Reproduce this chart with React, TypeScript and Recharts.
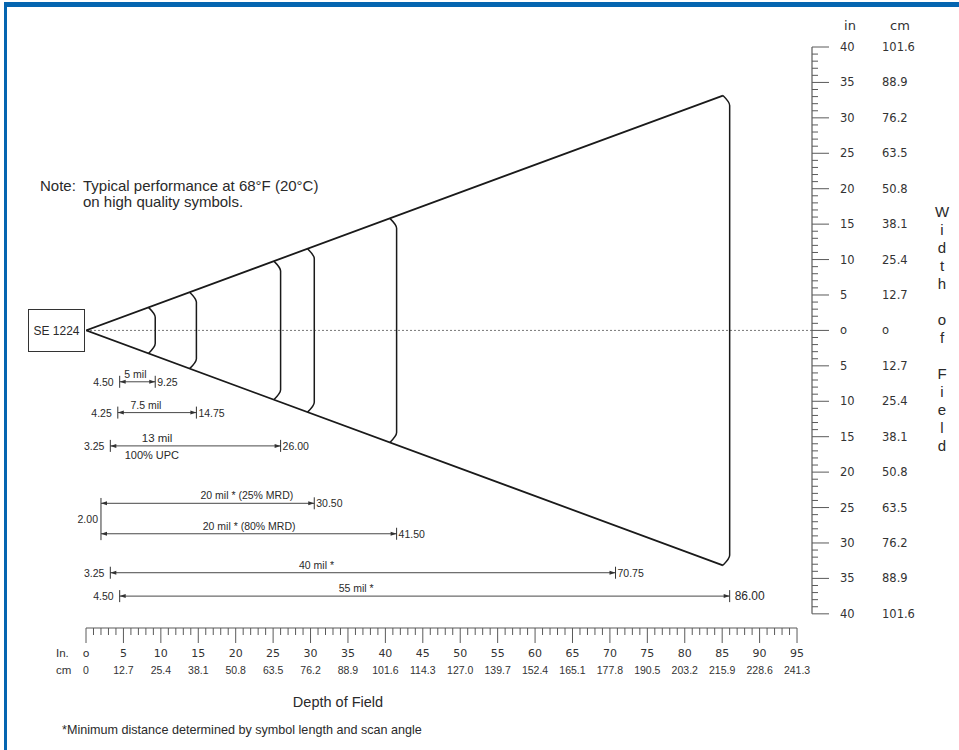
import React from "react";
import { ComposedChart, Line, XAxis, YAxis, ReferenceLine } from "recharts";

// ---------- data ----------
const CONE_DEPTH = [0, 86];
const CONE_HALF_WIDTH = [0, 33.5];

const RANGE_NAMES = ["5 mil", "7.5 mil", "13  mil", "20 mil * (25% MRD)", "20 mil * (80% MRD)", "40 mil *", "55 mil *"];
const RANGE_NEAR = [4.5, 4.25, 3.25, 2.0, 2.0, 3.25, 4.5];
const RANGE_FAR = [9.25, 14.75, 26.0, 30.5, 41.5, 70.75, 86.0];
const NEAR_LABELS = ["4.50", "4.25", "3.25", "2.00", "2.00", "3.25", "4.50"];
const FAR_LABELS = ["9.25", "14.75", "26.00", "30.50", "41.50", "70.75", "86.00"];
const ARC_DEPTHS = [9.25, 14.75, 26.0, 30.5, 41.5, 86.0];

const DEPTH_TICKS_IN = [0, 5, 10, 15, 20, 25, 30, 35, 40, 45, 50, 55, 60, 65, 70, 75, 80, 85, 90, 95];
const DEPTH_LABELS_IN = ["o", "5", "10", "15", "20", "25", "30", "35", "40", "45", "50", "55", "60", "65", "70", "75", "80", "85", "90", "95"];
const DEPTH_LABELS_CM = ["0", "12.7", "25.4", "38.1", "50.8", "63.5", "76.2", "88.9", "101.6", "114.3", "127.0", "139.7", "152.4", "165.1", "177.8", "190.5", "203.2", "215.9", "228.6", "241.3"];

const WIDTH_TICKS_IN = [0, 5, 10, 15, 20, 25, 30, 35, 40];
const WIDTH_LABELS_IN = ["o", "5", "10", "15", "20", "25", "30", "35", "40"];
const WIDTH_LABELS_CM = ["o", "12.7", "25.4", "38.1", "50.8", "63.5", "76.2", "88.9", "101.6"];

// ---------- layout (chart units) ----------
const ROW_LEVEL = [-7.25, -11.6, -16.3, -24.4, -28.7, -34.2, -37.5];
const ROW_LABEL_AT = [6.6, 8.0, 9.5, 21.5, 21.8, 30.8, 36.1];
const UPC_LABEL_AT = 8.8;
const X_MAX = 97;
const Y_MIN = -42;
const Y_MAX = 40;
const CORNER_DX = 0.9;
const CORNER_DY = 1.4;

const ALL_X_TICKS = Array.from({ length: 96 }, (_, i) => i);
const ALL_Y_TICKS = Array.from({ length: 81 }, (_, i) => i - 40);

const TXT = "#2a2a2a";
const RULE = "#5a5a5a";
const SANS = "'Liberation Sans', Arial, sans-serif";

const halfWidth = (d: number) =>
  CONE_HALF_WIDTH[0] +
  ((CONE_HALF_WIDTH[1] - CONE_HALF_WIDTH[0]) * (d - CONE_DEPTH[0])) / (CONE_DEPTH[1] - CONE_DEPTH[0]);

const coneTip = CONE_DEPTH[1] - CORNER_DX;
const coneData = [
  { x: coneTip, y: halfWidth(coneTip) },
  { x: CONE_DEPTH[0], y: CONE_HALF_WIDTH[0] },
  { x: coneTip, y: -halfWidth(coneTip) },
];

const arcData = ARC_DEPTHS.map((d) => {
  const h = halfWidth(d - CORNER_DX);
  return [
    { x: d - CORNER_DX, y: h },
    { x: d, y: h - CORNER_DY },
    { x: d, y: -(h - CORNER_DY) },
    { x: d - CORNER_DX, y: -h },
  ];
});

const XTick = (props: any) => {
  const { x, y, payload } = props;
  const v = payload.value;
  const idx = DEPTH_TICKS_IN.indexOf(v);
  const major = idx >= 0;
  return (
    <g>
      <line x1={x} x2={x} y1={y} y2={y + (major ? 15 : 7)} stroke={RULE} strokeWidth={1} />
      {major && (
        <text x={x} y={y + 29} textAnchor="middle" fontFamily="'DejaVu Sans', sans-serif" fontSize={11} fill="#333">
          {DEPTH_LABELS_IN[idx]}
        </text>
      )}
      {major && (
        <text x={x} y={y + 46} textAnchor="middle" fontFamily="'Liberation Sans Narrow', 'Liberation Sans', sans-serif" fontSize={10.5} fill="#333">
          {DEPTH_LABELS_CM[idx]}
        </text>
      )}
    </g>
  );
};

const YTick = (props: any) => {
  const { x, y, payload } = props;
  const v = payload.value;
  const idx = WIDTH_TICKS_IN.indexOf(Math.abs(v));
  const major = idx >= 0;
  return (
    <g>
      <line x1={x} x2={x + (major ? 17 : 6)} y1={y} y2={y} stroke={RULE} strokeWidth={1} />
      {major && (
        <text x={x + 28} y={y + 4} fontFamily="'DejaVu Sans', sans-serif" fontSize={11.5} fill="#333">
          {WIDTH_LABELS_IN[idx]}
        </text>
      )}
      {major && (
        <text x={x + 70} y={y + 4} fontFamily="'DejaVu Sans', sans-serif" fontSize={11.5} fill="#333">
          {WIDTH_LABELS_CM[idx]}
        </text>
      )}
    </g>
  );
};

const sharesStart = (i: number) =>
  (i > 0 && RANGE_NEAR[i - 1] === RANGE_NEAR[i]) || (i < RANGE_NEAR.length - 1 && RANGE_NEAR[i + 1] === RANGE_NEAR[i]);

const dimShape = (i: number) => (p: any) => {
  const { x1, y1, x2 } = p;
  const y = y1;
  const toPx = (v: number) => x1 + ((v - RANGE_NEAR[i]) / (RANGE_FAR[i] - RANGE_NEAR[i])) * (x2 - x1);
  const shared = sharesStart(i);
  const lx = toPx(ROW_LABEL_AT[i]);
  const big = i === 6;
  return (
    <g>
      <line x1={x1} y1={y} x2={x2} y2={y} stroke="#333" strokeWidth={0.9} />
      <polygon points={`${x1},${y} ${x1 + 6},${y - 2} ${x1 + 6},${y + 2}`} fill="#333" />
      <polygon points={`${x2},${y} ${x2 - 6},${y - 2} ${x2 - 6},${y + 2}`} fill="#333" />
      {!shared && <line x1={x1} y1={y - 6} x2={x1} y2={y + 6} stroke="#333" strokeWidth={1} />}
      <line x1={x2} y1={y - 6} x2={x2} y2={y + 6} stroke="#333" strokeWidth={1} />
      {!shared && (
        <text x={x1 - 6} y={y + 4} textAnchor="end" fontFamily={SANS} fontSize={10.5} fill={TXT}>
          {NEAR_LABELS[i]}
        </text>
      )}
      <text x={x2 + (big ? 5 : 2)} y={y + 4} fontFamily={SANS} fontSize={big ? 12 : 10.5} fill={TXT}>
        {FAR_LABELS[i]}
      </text>
      <text x={lx} y={y - 4} textAnchor="middle" fontFamily={SANS} fontSize={i === 2 ? 11.5 : 10.5} fill={TXT}>
        {RANGE_NAMES[i]}
      </text>
      {i === 2 && (
        <text x={toPx(UPC_LABEL_AT)} y={y + 13} textAnchor="middle" fontFamily={SANS} fontSize={11} fill={TXT}>
          100% UPC
        </text>
      )}
    </g>
  );
};

const sharedTickShape = (label: string) => (p: any) => {
  const { x1, y1, y2 } = p;
  return (
    <g>
      <line x1={x1} y1={y1} x2={x1} y2={y2} stroke="#333" strokeWidth={1} />
      <text x={x1 - 3} y={(y1 + y2) / 2 + 4} textAnchor="end" fontFamily={SANS} fontSize={10.5} fill={TXT}>
        {label}
      </text>
    </g>
  );
};

const WIDTH_LETTERS = ["W", "i", "d", "t", "h", "", "o", "f", "", "F", "i", "e", "l", "d"];

export default function App() {
  const sharedRows = RANGE_NEAR.map((_, i) => i).filter((i) => sharesStart(i));
  const sTop = sharedRows.length ? Math.max(...sharedRows.map((i) => ROW_LEVEL[i])) : 0;
  const sBot = sharedRows.length ? Math.min(...sharedRows.map((i) => ROW_LEVEL[i])) : 0;

  return (
    <div style={{ position: "absolute", left: 0, top: 0, width: 959, height: 750, background: "#fff", overflow: "hidden", fontFamily: SANS, color: TXT }}>
      <div style={{ position: "absolute", left: 4, top: 2, right: 0, height: 5, background: "#0565b0" }} />
      <div style={{ position: "absolute", left: 4, top: 2, width: 3, bottom: 0, background: "#0565b0" }} />

      <ComposedChart width={959} height={750} margin={{ top: 47, left: 86, right: 47, bottom: 62 }}>
        <XAxis
          type="number"
          dataKey="x"
          domain={[0, X_MAX]}
          allowDataOverflow
          ticks={ALL_X_TICKS}
          interval={0}
          axisLine={false}
          tickLine={false}
          tickSize={0}
          tickMargin={0}
          height={60}
          tick={<XTick />}
        />
        <YAxis
          type="number"
          orientation="right"
          domain={[Y_MIN, Y_MAX]}
          allowDataOverflow
          ticks={ALL_Y_TICKS}
          interval={0}
          axisLine={false}
          tickLine={false}
          tickSize={0}
          tickMargin={0}
          width={100}
          tick={<YTick />}
        />
        <ReferenceLine y={0} stroke="#777" strokeDasharray="2 2" strokeWidth={1} />
        <ReferenceLine segment={[{ x: X_MAX, y: -40 }, { x: X_MAX, y: 40 }]} stroke={RULE} strokeWidth={1.2} ifOverflow="visible" />
        <ReferenceLine segment={[{ x: 0, y: Y_MIN }, { x: 95, y: Y_MIN }]} stroke={RULE} strokeWidth={1.2} ifOverflow="visible" />

        <Line data={coneData} dataKey="y" type="linear" stroke="#1a1a1a" strokeWidth={1.8} dot={false} activeDot={false} isAnimationActive={false} />
        {arcData.map((d, i) => (
          <Line key={"arc" + i} data={d} dataKey="y" type="monotoneY" stroke="#1a1a1a" strokeWidth={1.5} dot={false} activeDot={false} isAnimationActive={false} />
        ))}

        {RANGE_NEAR.map((n, i) => (
          <ReferenceLine
            key={"dim" + i}
            segment={[{ x: n, y: ROW_LEVEL[i] }, { x: RANGE_FAR[i], y: ROW_LEVEL[i] }]}
            ifOverflow="visible"
            shape={dimShape(i)}
          />
        ))}
        {sharedRows.length > 0 && (
          <ReferenceLine
            segment={[{ x: RANGE_NEAR[sharedRows[0]], y: sTop + 0.75 }, { x: RANGE_NEAR[sharedRows[0]], y: sBot - 0.9 }]}
            ifOverflow="visible"
            shape={sharedTickShape(NEAR_LABELS[sharedRows[0]])}
          />
        )}
      </ComposedChart>

      {/* static texts */}
      <div style={{ position: "absolute", left: 40, top: 178, fontSize: 15, whiteSpace: "nowrap", lineHeight: "16px" }}>Note:</div>
      <div style={{ position: "absolute", left: 83, top: 178, fontSize: 15, whiteSpace: "nowrap", lineHeight: "16px" }}>
        Typical performance at 68°F (20°C)
        <br />
        on high quality symbols.
      </div>

      <div style={{ position: "absolute", left: 28, top: 309, width: 57, height: 43, boxSizing: "border-box", border: "1px solid #333", background: "#fff", display: "flex", alignItems: "center", justifyContent: "center", fontSize: 12, whiteSpace: "nowrap" }}>
        SE 1224
      </div>

      <div style={{ position: "absolute", left: 836, top: 17, width: 28, textAlign: "center", fontFamily: "'DejaVu Sans', sans-serif", fontSize: 13, lineHeight: "18px", color: "#333" }}>in</div>
      <div style={{ position: "absolute", left: 884, top: 17, width: 32, textAlign: "center", fontFamily: "'DejaVu Sans', sans-serif", fontSize: 13, lineHeight: "18px", color: "#333" }}>cm</div>

      <div style={{ position: "absolute", left: 930, top: 203, width: 24, textAlign: "center", fontSize: 15 }}>
        {WIDTH_LETTERS.map((c, i) => (
          <div key={i} style={{ height: 18, lineHeight: "18px" }}>{c}</div>
        ))}
      </div>

      <div style={{ position: "absolute", left: 56, top: 645, fontSize: 11.5, lineHeight: "16px", color: "#333" }}>In.</div>
      <div style={{ position: "absolute", left: 56, top: 662, fontSize: 11.5, lineHeight: "16px", color: "#333" }}>cm</div>

      <div style={{ position: "absolute", left: 238, top: 693, width: 200, textAlign: "center", fontSize: 14.5, lineHeight: "18px" }}>Depth of Field</div>
      <div style={{ position: "absolute", left: 62, top: 722, fontSize: 12.6, lineHeight: "16px", whiteSpace: "nowrap" }}>
        *Minimum distance determined by symbol length and scan angle
      </div>
    </div>
  );
}
